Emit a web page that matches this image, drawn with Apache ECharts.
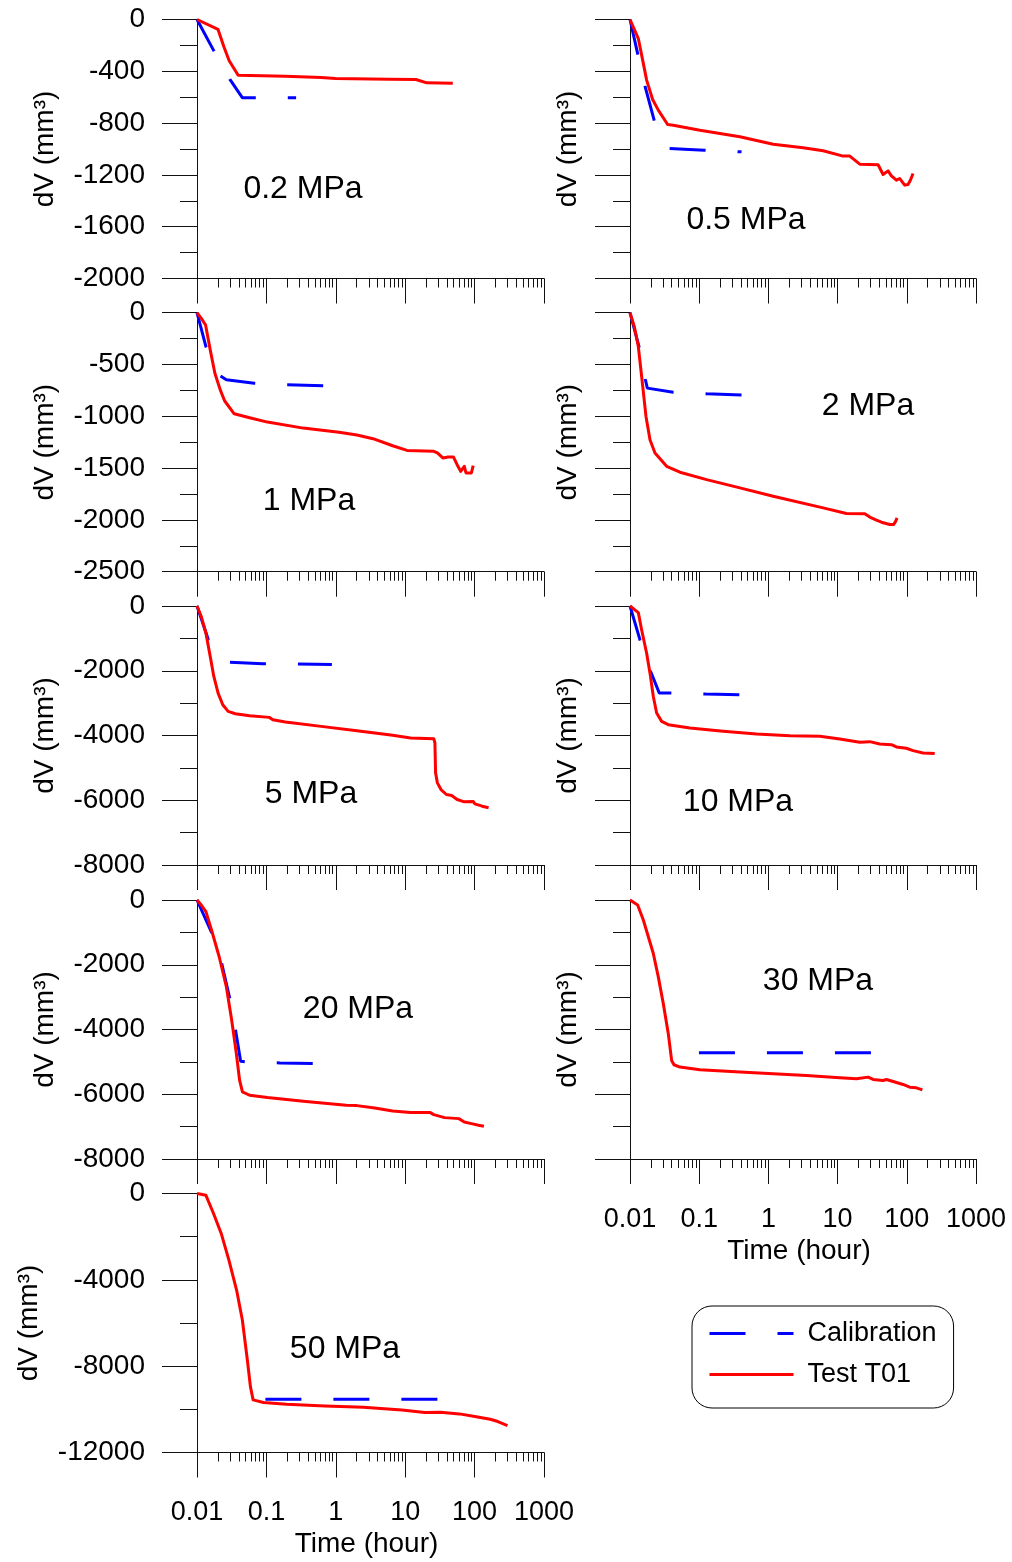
<!DOCTYPE html>
<html>
<head>
<meta charset="utf-8">
<script src="https://cdn.jsdelivr.net/npm/echarts@6/dist/echarts.min.js"></script>
<style>html,body{margin:0;padding:0;background:#fff}#c{width:1012px;height:1562px}</style>
</head>
<body>
<div id="c"></div>
<script>
// ---------- data ----------
const panelLabels = ['0.2 MPa','0.5 MPa','1 MPa','2 MPa','5 MPa','10 MPa','20 MPa','30 MPa','50 MPa'];
const yMin = [-2000,-2000,-2500,-2500,-8000,-8000,-8000,-8000,-12000];
const yInterval = [400,400,500,500,2000,2000,2000,2000,4000];
const xTickLabels = ['0.01','0.1','1','10','100','1000'];
const legendNames = ['Calibration','Test T01'];

const cal02 = [[0.01,0],[0.0175,-242],[0.0298,-463],[0.0452,-605],[0.268,-605]];
const test02 = [[0.01,0],[0.0201,-77],[0.0244,-211],[0.0291,-319],[0.0392,-430],[0.1875,-438],[0.615,-448],[0.99,-456],[5.86,-461],[14.3,-463],[20.4,-489],[48.5,-492]];

const cal05 = [[0.01,0],[0.0129,-263],[0.01647,-515],[0.02245,-782],[0.037,-996],[0.1184,-1009],[0.409,-1022]];
const test05 = [[0.01,0],[0.01142,-70],[0.01319,-147],[0.01474,-275],[0.0174,-468],[0.02124,-618],[0.02564,-700],[0.035,-811],[0.0422,-816],[0.1025,-855],[0.387,-906],[1.172,-963],[3.18,-991],[6.18,-1014],[12.0,-1055],[15.0,-1055],[20.9,-1117],[38.5,-1122],[45.4,-1197],[53.6,-1169],[59.9,-1207],[70.8,-1241],[79.1,-1228],[93.3,-1279],[104.2,-1274],[112.7,-1241],[123,-1189]];

const cal1 = [[0.01,0],[0.01345,-327],[0.02163,-610],[0.02647,-648],[0.0668,-680],[0.199,-696],[0.668,-706]];
const test1 = [[0.01,0],[0.01153,-55],[0.01329,-119],[0.01551,-359],[0.0181,-584],[0.02163,-745],[0.02495,-850],[0.03436,-976],[0.05725,-1014],[0.1036,-1056],[0.3396,-1114],[1.113,-1155],[2.014,-1181],[3.437,-1216],[6.6,-1284],[10.62,-1329],[25.8,-1338],[29.1,-1354],[34.8,-1402],[41.6,-1393],[49.7,-1393],[56.0,-1467],[63.0,-1531],[71.0,-1483],[75.2,-1547],[89.9,-1547],[95.4,-1476]];

const cal2 = [[0.01,0],[0.01349,-327],[0.01665,-642],[0.01779,-728],[0.0422,-767],[0.1279,-783],[0.4425,-796]];
const test2 = [[0.01,0],[0.01155,-135],[0.01319,-327],[0.01474,-616],[0.01702,-1001],[0.01945,-1226],[0.02296,-1354],[0.03383,-1483],[0.05271,-1540],[0.1279,-1611],[0.3873,-1691],[1.172,-1771],[6.18,-1884],[13.4,-1938],[24.7,-1941],[29.2,-1973],[36.4,-2002],[43.0,-2022],[56.6,-2044],[64.7,-2044],[69.2,-2012],[72.3,-1980]];

const cal5 = [[0.01,0],[0.01462,-1047],[0.02647,-1736],[0.0888,-1787],[0.2617,-1787],[0.878,-1808]];
const test5 = [[0.01,0],[0.01153,-329],[0.01345,-842],[0.01551,-1561],[0.01747,-2177],[0.02014,-2691],[0.0235,-3050],[0.02809,-3255],[0.03561,-3327],[0.05725,-3389],[0.11,-3440],[0.1238,-3512],[0.1877,-3584],[0.615,-3718],[2.014,-3851],[6.6,-3995],[11.94,-4077],[25.8,-4098],[26.8,-4231],[27.4,-5155],[29.1,-5463],[32.8,-5669],[39.2,-5823],[46.8,-5854],[56.0,-5977],[71.0,-6049],[95.4,-6039],[101.2,-6111],[128.5,-6183],[159,-6234]];

const cal10 = [[0.01,0],[0.01394,-1047],[0.01988,-2023],[0.02651,-2690],[0.0413,-2690],[0.1237,-2721],[0.414,-2742]];
const test10 = [[0.01,0],[0.01319,-205],[0.01474,-739],[0.0174,-1458],[0.01945,-2074],[0.02172,-2793],[0.02427,-3307],[0.02866,-3564],[0.03576,-3666],[0.07348,-3769],[0.2225,-3872],[0.6742,-3954],[2.042,-4005],[5.534,-4026],[10.76,-4108],[20.9,-4211],[29.2,-4190],[40.6,-4262],[59.9,-4282],[70.8,-4354],[98.6,-4395],[123,-4467],[171.8,-4539],[253,-4559]];

const cal20 = [[0.01,0],[0.01646,-1031],[0.02215,-1856],[0.03162,-3299],[0.04256,-4979],[0.05084,-5000],[0.157,-5031],[0.5145,-5052]];
const test20 = [[0.01,0],[0.01153,-155],[0.01345,-361],[0.01646,-979],[0.02087,-1753],[0.02647,-2680],[0.03162,-3711],[0.0369,-4742],[0.04106,-5567],[0.04515,-5928],[0.05725,-6031],[0.1036,-6103],[0.3396,-6216],[1.411,-6340],[2.014,-6351],[3.648,-6423],[6.6,-6515],[11.94,-6567],[22.96,-6567],[25.8,-6629],[36.9,-6722],[59.3,-6753],[71.0,-6856],[89.9,-6907],[114,-6959],[136.3,-6990]];

const cal30 = [[0.0991,-4717],[32.6,-4717]];
const test30 = [[0.01,0],[0.0129,-155],[0.01558,-619],[0.0184,-1135],[0.02172,-1652],[0.02564,-2374],[0.03028,-3200],[0.03576,-4129],[0.03996,-4955],[0.04319,-5089],[0.05271,-5161],[0.1025,-5244],[0.3873,-5316],[1.172,-5368],[3.55,-5419],[10.76,-5492],[18.7,-5523],[27.6,-5471],[32.6,-5543],[45.4,-5574],[50.7,-5543],[63.4,-5605],[88.3,-5698],[110.2,-5781],[137.5,-5801],[168,-5863]];

const cal50 = [[0.0967,-9532],[32.8,-9532]];
const test50 = [[0.01,0],[0.01341,-77],[0.0173,-925],[0.02233,-1851],[0.02882,-3085],[0.03718,-4473],[0.04502,-5861],[0.05314,-7712],[0.05885,-8946],[0.06436,-9563],[0.0908,-9686],[0.195,-9763],[0.698,-9841],[2.5,-9902],[8.94,-10026],[19.2,-10149],[32.0,-10134],[60.5,-10211],[100.7,-10334],[167.9,-10458],[216.6,-10566],[297.7,-10751]];

const calData = [cal02, cal05, cal1, cal2, cal5, cal10, cal20, cal30, cal50];
const testData = [test02, test05, test1, test2, test5, test10, test20, test30, test50];

// ---------- layout ----------
const FONT = "'Liberation Sans', Arial, Helvetica, sans-serif";
const AX = '#111';
const colLeft = [197, 630];
const colWidth = [347, 346];
const rowTop = [19.5, 312.7, 606, 900, 1193.5];
const gridH = 259;
const annotPos = [[303,189],[746,220],[309,501],[868,406],[311,794],[738,802],[358,1009],[818,981],[345,1349]];
const yNameGap = [138,48,138,48,138,48,138,48,154];
const xLabelPanels = [7, 8];

const grids = [], xAxes = [], yAxes = [], series = [], graphics = [];

function xFmt(v) {
  for (const s of xTickLabels) {
    if (Math.abs(Math.log10(parseFloat(s)) - Math.log10(v)) < 1e-6) return s;
  }
  return '';
}

for (let i = 0; i < 9; i++) {
  const col = i % 2, row = Math.floor(i / 2);
  const showX = xLabelPanels.indexOf(i) >= 0;
  grids.push({left: colLeft[col], top: rowTop[row], width: colWidth[col], height: gridH,
    containLabel: false, outerBoundsMode: 'none'});
  xAxes.push({
    type: 'log', logBase: 10, gridIndex: i, min: 0.01, max: 1000, position: 'bottom',
    axisLine: {show: true, onZero: false, lineStyle: {color: AX, width: 1}},
    axisTick: {show: true, inside: false, length: 25, lineStyle: {color: AX, width: 1}},
    minorTick: {show: true, splitNumber: 9, length: 9, lineStyle: {color: AX, width: 1}},
    splitLine: {show: false}, minorSplitLine: {show: false},
    axisLabel: {show: showX, margin: 47, fontSize: 27, color: '#000', fontFamily: FONT, formatter: xFmt},
    name: showX ? 'Time (hour)' : '', nameLocation: 'middle', nameGap: 78,
    nameTextStyle: {fontSize: 28, color: '#000', fontFamily: FONT, padding: [0, 8, 0, 0]}
  });
  yAxes.push({
    type: 'value', gridIndex: i, min: yMin[i], max: 0, interval: yInterval[i],
    axisLine: {show: true, onZero: false, lineStyle: {color: AX, width: 1}},
    axisTick: {show: true, inside: false, length: 35, lineStyle: {color: AX, width: 1}},
    minorTick: {show: true, splitNumber: 2, length: 17, lineStyle: {color: AX, width: 1}},
    splitLine: {show: false}, minorSplitLine: {show: false},
    axisLabel: {show: col === 0, margin: 52, fontSize: 28, color: '#000', fontFamily: FONT,
      padding: [5, 0, 0, 0], formatter: v => String(v)},
    name: 'dV (mm³)', nameLocation: 'middle', nameGap: yNameGap[i],
    nameTextStyle: {fontSize: 28, color: '#000', fontFamily: FONT}
  });
  series.push({
    type: 'line', name: legendNames[0], xAxisIndex: i, yAxisIndex: i, data: calData[i],
    symbol: 'none', showSymbol: false, clip: false, animation: false, silent: true,
    lineStyle: {color: '#0000ff', width: 3, type: [36, 32], cap: 'butt'},
    itemStyle: {color: '#0000ff'}
  });
  series.push({
    type: 'line', name: legendNames[1], xAxisIndex: i, yAxisIndex: i, data: testData[i],
    symbol: 'none', showSymbol: false, clip: false, animation: false, silent: true,
    lineStyle: {color: '#ff0000', width: 3, join: 'round'},
    itemStyle: {color: '#ff0000'}
  });
  graphics.push({
    type: 'text', x: annotPos[i][0], y: annotPos[i][1], silent: true,
    style: {text: panelLabels[i], fontSize: 32, fontFamily: FONT, fill: '#000',
      align: 'center', verticalAlign: 'middle', textAlign: 'center', textVerticalAlign: 'middle'}
  });
}

const chart = echarts.init(document.getElementById('c'), null, {renderer: 'canvas', width: 1012, height: 1562});
chart.setOption({
  animation: false,
  backgroundColor: '#fff',
  grid: grids,
  xAxis: xAxes,
  yAxis: yAxes,
  series: series,
  legend: {
    data: legendNames, orient: 'vertical', left: 692, top: 1306,
    padding: [14, 17, 20, 16], itemWidth: 84, itemHeight: 14, itemGap: 14,
    borderColor: '#000', borderWidth: 1, borderRadius: 20, backgroundColor: '#fff',
    selectedMode: false,
    itemStyle: {opacity: 0},
    lineStyle: {width: 3},
    textStyle: {fontSize: 27, color: '#000', fontFamily: FONT, lineHeight: 27, padding: [0, 0, 0, 9]}
  },
  graphic: {elements: graphics}
});
</script>
</body>
</html>
